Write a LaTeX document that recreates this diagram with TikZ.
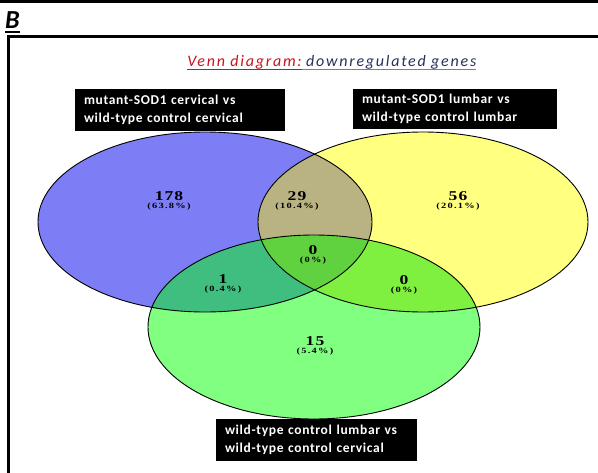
\documentclass[tikz,border=0pt]{standalone}
\usepackage{fontspec}
\setmainfont{Carlito}
\newfontfamily\numfont[LetterSpace=6]{Liberation Serif}
\newfontfamily\pctfont[LetterSpace=12]{Liberation Serif}
\newfontfamily\wideital[LetterSpace=11]{Carlito}
\newfontfamily\widebold[LetterSpace=5]{Carlito}
\definecolor{cblue}{RGB}{125,125,245}
\definecolor{cyel}{RGB}{255,255,128}
\definecolor{cgreen}{RGB}{128,255,128}
\definecolor{cby}{RGB}{185,178,130}
\definecolor{cbg}{RGB}{64,190,128}
\definecolor{cyg}{RGB}{128,240,64}
\definecolor{call}{RGB}{96,210,64}
\definecolor{tred}{RGB}{200,20,30}
\definecolor{tblue}{RGB}{40,50,90}
\newcommand{\stretchx}[1]{\scalebox{1.3}[1]{#1}}
\begin{document}
\begin{tikzpicture}[x=1pt,y=-1pt,
  lab/.style={fill=black,text=white,font=\widebold\bfseries\fontsize{13.5}{17.5}\selectfont,align=left,inner xsep=9pt,inner ysep=4pt},
  num/.style={font=\numfont\bfseries\fontsize{13.5}{13}\selectfont,inner sep=0pt},
  pct/.style={font=\pctfont\bfseries\fontsize{8}{8}\selectfont,inner sep=0pt},
  outl/.style={draw=black,line width=0.9pt}]
\useasboundingbox (0,0) rectangle (598,472);
\fill[white] (0,0) rectangle (598,472);
\draw[line width=3pt] (0,1.5) -- (598,1.5);
\node[anchor=base west,inner sep=0pt,font=\bfseries\itshape\fontsize{26}{26}\selectfont] (B) at (5,28) {B};
\draw[line width=1.8pt] ([yshift=-4]B.base west) -- ([yshift=-4]B.base east);
\draw[line width=3pt] (8.5,475) |- (600,36.5);
% title
\node[anchor=base east,inner sep=0pt,text=tred,font=\wideital\itshape\fontsize{16}{16}\selectfont] (t1) at (302,66) {Venn diagram:};
\node[anchor=base west,inner sep=0pt,text=tblue,font=\wideital\itshape\fontsize{16}{16}\selectfont] (t2) at (306,66) {downregulated genes};
\draw[tred,line width=0.6pt] ([yshift=-3]t1.base west) -- ([yshift=-3]t1.base east);
\draw[gray,line width=0.6pt] ([yshift=-3]t1.base east) -- ([yshift=-3]t2.base east);
% ellipses
\def\EA{(205,222) ellipse [x radius=167, y radius=90]}
\def\EB{(423,222) ellipse [x radius=165, y radius=90]}
\def\EC{(314,327) ellipse [x radius=166, y radius=92]}
\fill[cblue] \EA;
\fill[cyel] \EB;
\fill[cgreen] \EC;
\begin{scope}\clip \EA; \fill[cby] \EB; \end{scope}
\begin{scope}\clip \EA; \fill[cbg] \EC; \end{scope}
\begin{scope}\clip \EB; \fill[cyg] \EC; \end{scope}
\begin{scope}\clip \EA; \clip \EB; \fill[call] \EC; \end{scope}
\draw[outl] \EA;
\draw[outl] \EB;
\draw[outl] \EC;
% labels
\node[lab,minimum width=210pt,minimum height=42pt,text width=192pt] (L1) at (180,110) {mutant-SOD1 cervical vs\\wild-type control cervical};
\node[lab,minimum width=204pt,minimum height=40pt,text width=186pt] (L2) at (455,109) {mutant-SOD1 lumbar vs\\wild-type control lumbar};
\node[lab,minimum width=201pt,minimum height=42pt,text width=183pt] (L3) at (316.5,440) {wild-type control lumbar vs\\wild-type control cervical};
% numbers
\node[num] (n1) at (169,196) {\stretchx{178}};
\node[pct] (p1) at (169,206.5) {\stretchx{(63.8\%)}};
\node[num] (n2) at (297,196) {\stretchx{29}};
\node[pct] (p2) at (297,206.5) {\stretchx{(10.4\%)}};
\node[num] (n3) at (458,196) {\stretchx{56}};
\node[pct] (p3) at (458,206.5) {\stretchx{(20.1\%)}};
\node[num] (n4) at (313,250) {\stretchx{0}};
\node[pct] (p4) at (313,260.5) {\stretchx{(0\%)}};
\node[num] (n5) at (223,279) {\stretchx{1}};
\node[pct] (p5) at (223,289.5) {\stretchx{(0.4\%)}};
\node[num] (n6) at (404,280) {\stretchx{0}};
\node[pct] (p6) at (404,290.5) {\stretchx{(0\%)}};
\node[num] (n7) at (315,341) {\stretchx{15}};
\node[pct] (p7) at (315,351.5) {\stretchx{(5.4\%)}};
\end{tikzpicture}
\end{document}
